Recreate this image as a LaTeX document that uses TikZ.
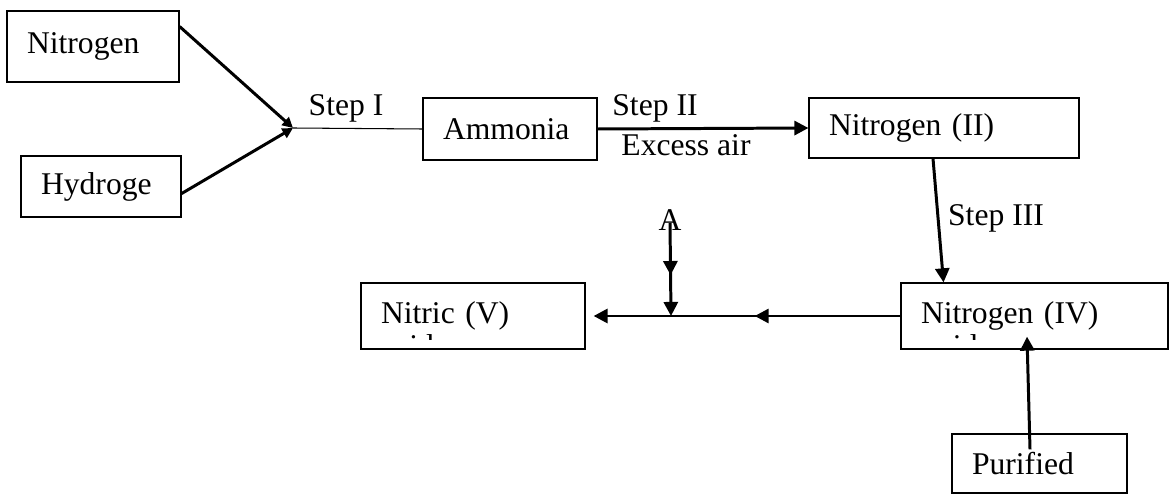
\documentclass[tikz,border=0pt]{standalone}
\usepackage{fontspec}
\setmainfont{Liberation Serif}
\usepackage{tikz}
\usetikzlibrary{arrows.meta, decorations.markings}

\begin{document}
\begin{tikzpicture}[
    x=0.02cm, y=-0.02cm,
    font=\fontsize{18}{21}\selectfont,
    box/.style={rectangle, draw=black, line width=0.7pt, align=left, inner xsep=0.4cm, inner ysep=0pt},
    txt/.style={inner sep=0pt},
    arrow/.style={line width=1.7pt, -{Triangle[length=8pt, width=8pt]}},
    feed/.style={line width=1.7pt, -{Triangle[length=6pt, width=6pt]}},
    thin line/.style={line width=0.6pt},
    midarrow/.style={postaction={decorate}, decoration={markings, mark=at position #1 with {\arrow{Triangle[length=8pt, width=8pt]}}}}
]
\useasboundingbox (0,0) rectangle (1169,496);

\node (nitrogen) [box, text width=2.64cm, minimum height=1.42cm] at (93,46.5) {Nitrogen};
\node (hydrogen) [box, text width=2.4cm, minimum height=1.22cm] at (101,186.5) {Hydroge};
\node (ammonia) [box, text width=2.68cm, minimum height=1.24cm] at (510,129) {Ammonia};
\node (no2) [box, text width=4.6cm, minimum height=1.2cm] at (944,128) {Nitrogen (II)};
\node (no4) [box, text width=4.54cm, minimum height=1.32cm] at (1034.5,316) {Nitrogen (IV)};
\node (nitric) [box, text width=3.68cm, minimum height=1.32cm] at (473,316) {Nitric (V)};
\node (purified) [box, text width=2.7cm, minimum height=1.18cm] at (1039.5,463.5) {Purified};

% second lines cut off by the boxes
\begin{scope}
    \clip (no4.north west) rectangle ([yshift=0.2cm]no4.south east);
    \node (no4b) [txt, anchor=base west] at (921,357) {oxide};
\end{scope}
\begin{scope}
    \clip (nitric.north west) rectangle ([yshift=0.2cm]nitric.south east);
    \node (nitricb) [txt, anchor=base west] at (381,357) {acid};
\end{scope}

\node (stepI) [txt] at (346,108) {Step I};
\node (stepII) [txt] at (655,108) {Step II};
\node (air) [txt] at (686,145) {Excess air};
\node (stepIII) [txt] at (996,218) {Step III};
\node (A) [txt] at (670,220) {A};

\coordinate (join) at (293,128);
\coordinate (mix) at (671,316);

\draw [feed] (nitrogen.13) -- (join);
\draw [feed] (hydrogen.-5) -- (join);
\draw [thin line] (join) -- (ammonia.west);
\draw [arrow] (ammonia.east) -- (no2.west);
\draw [arrow] ([xshift=-0.22cm]no2.south) -- ([xshift=-1.82cm]no4.north);
\draw [arrow, midarrow=0.475] (no4.west) -- ([xshift=0.16cm]nitric.east);
\draw [arrow, midarrow=0.56] ([yshift=-0.06cm]A.center) -- (mix);
\draw [arrow] ([xshift=-0.19cm, yshift=-0.32cm]purified.north) -- ([xshift=-0.15cm, yshift=0.26cm]no4.south);

\end{tikzpicture}
\end{document}
